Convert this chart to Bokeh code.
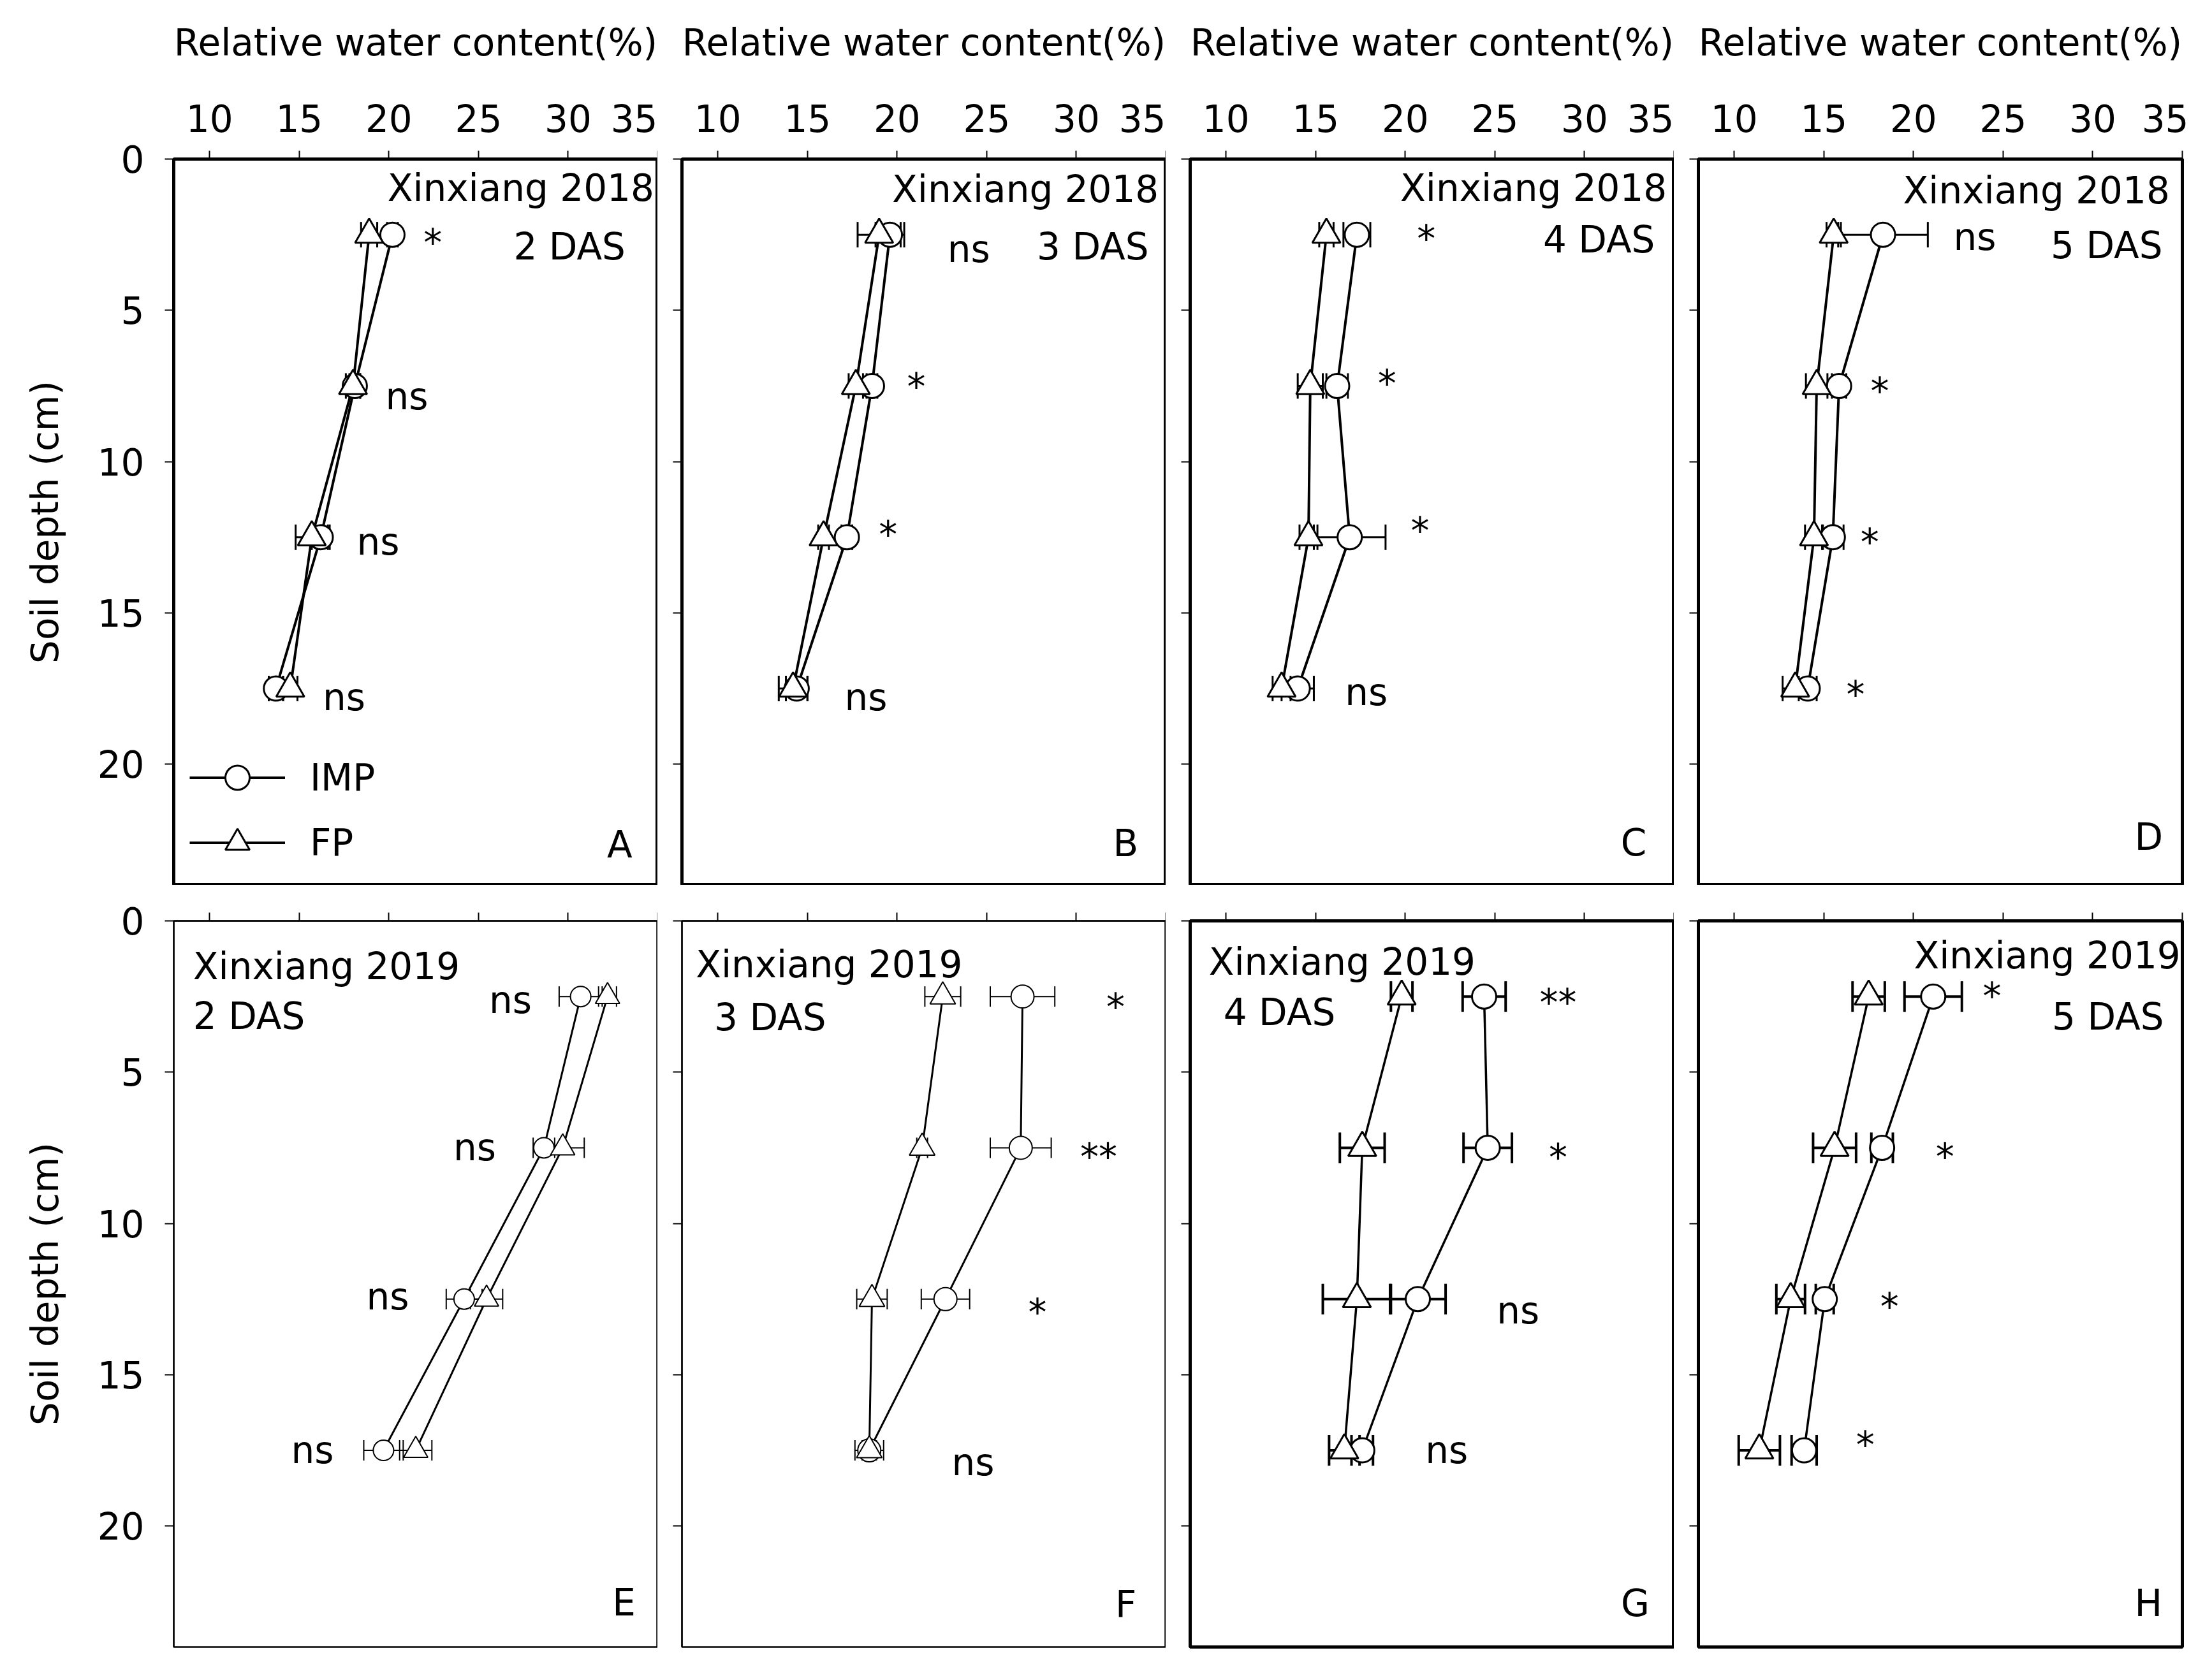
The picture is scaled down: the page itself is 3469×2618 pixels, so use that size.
from bokeh.plotting import figure
from bokeh.models import (Range1d, FixedTicker, Whisker, TeeHead, ColumnDataSource,
                          Legend, LegendItem)
from bokeh.layouts import row, column
from bokeh.embed import file_html
from bokeh.resources import INLINE
from bokeh.core.properties import value

# ---------------- data ----------------
depth = [2.5, 7.5, 12.5, 17.5]
x_ticks = [10, 15, 20, 25, 30, 35]
y_ticks = [0, 5, 10, 15, 20]
x_title = "Relative water content(%)"
y_title = "Soil depth (cm)"
series_names = ["IMP", "FP"]

panel_letters = ["A", "B", "C", "D", "E", "F", "G", "H"]
site_year = ["Xinxiang 2018"] * 4 + ["Xinxiang 2019"] * 4
das_labels = ["2 DAS", "3 DAS", "4 DAS", "5 DAS", "2 DAS", "3 DAS", "4 DAS", "5 DAS"]

imp_A = [20.2, 18.1, 16.2, 13.7]
imp_err_A = [0.3, 0.3, 0.5, 0.4]
fp_A = [18.9, 18.0, 15.7, 14.5]
fp_err_A = [0.45, 0.4, 0.9, 0.4]
sig_A = ["*", "ns", "ns", "ns"]

imp_B = [19.6, 18.6, 17.2, 14.4]
imp_err_B = [0.8, 0.3, 0.3, 0.6]
fp_B = [19.0, 17.7, 15.9, 14.2]
fp_err_B = [1.2, 0.4, 0.3, 0.8]
sig_B = ["ns", "*", "*", "ns"]

imp_C = [17.3, 16.2, 16.9, 14.0]
imp_err_C = [0.75, 0.6, 2.0, 0.9]
fp_C = [15.6, 14.7, 14.6, 13.1]
fp_err_C = [0.4, 0.7, 0.5, 0.5]
sig_C = ["*", "*", "*", "ns"]

imp_D = [18.3, 15.85, 15.5, 14.1]
imp_err_D = [2.5, 0.4, 0.6, 0.5]
fp_D = [15.55, 14.6, 14.45, 13.4]
fp_err_D = [0.4, 0.6, 0.5, 0.7]
sig_D = ["ns", "*", "*", "*"]

imp_E = [30.7, 28.65, 24.2, 19.7]
imp_err_E = [1.2, 0.6, 1.0, 1.1]
fp_E = [32.2, 29.7, 25.45, 21.5]
fp_err_E = [0.5, 1.2, 0.9, 0.9]
sig_E = ["ns", "ns", "ns", "ns"]

imp_F = [27.0, 26.9, 22.7, 18.45]
imp_err_F = [1.8, 1.7, 1.35, 0.4]
fp_F = [22.55, 21.4, 18.6, 18.45]
fp_err_F = [1.0, 0.3, 0.85, 0.8]
sig_F = ["*", "**", "*", "ns"]

imp_G = [24.4, 24.6, 20.7, 17.6]
imp_err_G = [1.2, 1.35, 1.55, 0.6]
fp_G = [19.8, 17.6, 17.3, 16.6]
fp_err_G = [0.6, 1.25, 1.9, 0.85]
sig_G = ["**", "*", "ns", "ns"]

imp_H = [21.1, 18.25, 15.05, 13.9]
imp_err_H = [1.6, 0.6, 0.5, 0.7]
fp_H = [17.5, 15.6, 13.15, 11.4]
fp_err_H = [0.9, 1.2, 0.8, 1.15]
sig_H = ["*", "*", "*", "*"]

# ---------------- annotation positions (data units, text baselines) ----------------
sig_pos = {
    "A": ([22.45, 21.0, 19.4, 17.5], [2.78, 7.85, 12.66, 17.8]),
    "B": ([24.0, 21.07, 19.5, 18.26], [2.98, 7.53, 12.42, 17.8]),
    "C": ([21.17, 18.98, 20.82, 17.83], [2.65, 7.42, 12.29, 17.63]),
    "D": ([23.42, 18.12, 17.56, 16.77], [2.58, 7.69, 12.67, 17.7]),
    "E": ([26.78, 24.79, 19.93, 15.74], [2.63, 7.5, 12.42, 17.51]),
    "F": ([32.19, 31.25, 27.83, 24.24], [2.86, 7.80, 12.94, 17.9]),
    "G": ([28.53, 28.53, 26.29, 22.31], [2.70, 7.82, 12.89, 17.49]),
    "H": ([24.38, 21.76, 18.66, 17.31], [2.49, 7.81, 12.75, 17.33]),
}
title_pos = {
    "A": [(34.8, 0.96, "right"), (33.2, 2.9, "right")],
    "B": [(34.6, 1.01, "right"), (34.04, 2.89, "right")],
    "C": [(34.6, 0.96, "right"), (33.93, 2.66, "right")],
    "D": [(34.3, 1.04, "right"), (33.9, 2.86, "right")],
    "E": [(9.08, 1.5, "left"), (9.08, 3.16, "left")],
    "F": [(8.77, 1.44, "left"), (9.8, 3.2, "left")],
    "G": [(9.04, 1.36, "left"), (9.86, 3.02, "left")],
    "H": [(34.9, 1.15, "right"), (33.97, 3.18, "right")],
}
letter_pos = {"A": (33.58, 22.66), "B": (33.46, 22.63), "C": (33.46, 22.6), "D": (33.92, 22.4),
              "E": (33.77, 22.54), "F": (33.36, 22.6), "G": (33.63, 22.55), "H": (33.88, 22.55)}

styles = {
    "A": dict(lw=4, mlw=3, ew=3, cap=40, outline=5, cs=38, ts=44),
    "B": dict(lw=4, mlw=3, ew=3, cap=40, outline=5, cs=38, ts=44),
    "C": dict(lw=4, mlw=3, ew=3, cap=40, outline=5, cs=38, ts=44),
    "D": dict(lw=4, mlw=3, ew=3, cap=40, outline=5, cs=38, ts=44),
    "E": dict(lw=3, mlw=2, ew=2, cap=32, outline=2.5, cs=32, ts=38),
    "F": dict(lw=3, mlw=2, ew=2, cap=32, outline=2.5, cs=36, ts=40),
    "G": dict(lw=3.5, mlw=3, ew=4, cap=48, outline=5, cs=38, ts=44),
    "H": dict(lw=3.5, mlw=3, ew=4, cap=48, outline=5, cs=38, ts=44),
}

FONT = "DejaVu Sans"
FS = "58px"

panel_data = {
    "A": (imp_A, imp_err_A, fp_A, fp_err_A, sig_A),
    "B": (imp_B, imp_err_B, fp_B, fp_err_B, sig_B),
    "C": (imp_C, imp_err_C, fp_C, fp_err_C, sig_C),
    "D": (imp_D, imp_err_D, fp_D, fp_err_D, sig_D),
    "E": (imp_E, imp_err_E, fp_E, fp_err_E, sig_E),
    "F": (imp_F, imp_err_F, fp_F, fp_err_F, sig_F),
    "G": (imp_G, imp_err_G, fp_G, fp_err_G, sig_G),
    "H": (imp_H, imp_err_H, fp_H, fp_err_H, sig_H),
}


def make_panel(idx):
    key = panel_letters[idx]
    imp, imp_err, fp, fp_err, sig = panel_data[key]
    st = styles[key]
    first_col = idx % 4 == 0
    last_col = idx % 4 == 3
    top_row = idx < 4

    p = figure(frame_width=759, frame_height=1139,
               x_range=Range1d(8, 35), y_range=Range1d(24, 0),
               x_axis_location="above", y_axis_location="left",
               output_backend="svg", toolbar_location=None,
               min_border_left=272 if first_col else 38,
               min_border_right=10 if last_col else 0,
               min_border_top=249 if top_row else 56,
               min_border_bottom=0 if top_row else 10,
               background_fill_color="white", border_fill_color="white")
    p.grid.visible = False
    p.outline_line_color = "black"
    p.outline_line_width = st["outline"]

    xa = p.xaxis[0]
    xa.ticker = FixedTicker(ticks=x_ticks)
    xa.major_tick_out = 13
    xa.major_tick_in = 0
    xa.minor_tick_out = 0
    xa.minor_tick_in = 0
    xa.major_tick_line_width = 2
    xa.axis_line_width = 2
    xa.major_label_text_font = FONT
    xa.major_label_text_font_size = FS
    xa.major_label_text_color = "black"
    if top_row:
        xa.major_label_standoff = 30
        xa.axis_label = x_title
        xa.axis_label_text_font = FONT
        xa.axis_label_text_font_size = FS
        xa.axis_label_text_font_style = "normal"
        xa.axis_label_text_color = "black"
        xa.axis_label_standoff = 60
    else:
        xa.major_label_overrides = {t: "" for t in x_ticks}
        xa.major_label_standoff = 0

    ya = p.yaxis[0]
    ya.ticker = FixedTicker(ticks=y_ticks)
    ya.major_tick_out = 14
    ya.major_tick_in = 0
    ya.minor_tick_out = 0
    ya.minor_tick_in = 0
    ya.major_tick_line_width = 2
    ya.axis_line_width = 2
    ya.major_label_text_font = FONT
    ya.major_label_text_font_size = FS
    ya.major_label_text_color = "black"
    if first_col:
        ya.major_label_standoff = 32
        ya.axis_label = y_title
        ya.axis_label_text_font = FONT
        ya.axis_label_text_font_size = FS
        ya.axis_label_text_font_style = "normal"
        ya.axis_label_text_color = "black"
        ya.axis_label_standoff = 45
    else:
        ya.major_label_overrides = {t: "" for t in y_ticks}
        ya.major_label_standoff = 0

    # error bars
    for vals, errs in ((imp, imp_err), (fp, fp_err)):
        src = ColumnDataSource(dict(depth=depth,
                                    lo=[v - e for v, e in zip(vals, errs)],
                                    hi=[v + e for v, e in zip(vals, errs)]))
        w = Whisker(source=src, base="depth", lower="lo", upper="hi", dimension="width",
                    line_color="black", line_width=st["ew"], level="underlay",
                    upper_head=TeeHead(size=st["cap"], line_width=st["ew"], line_color="black"),
                    lower_head=TeeHead(size=st["cap"], line_width=st["ew"], line_color="black"))
        p.add_layout(w)

    l_imp = p.line(x=imp, y=depth, line_color="black", line_width=st["lw"])
    l_fp = p.line(x=fp, y=depth, line_color="black", line_width=st["lw"])
    s_imp = p.scatter(x=imp, y=depth, marker="circle", size=st["cs"], fill_color="white",
                      line_color="black", line_width=st["mlw"])
    s_fp = p.scatter(x=fp, y=depth, marker="triangle", size=st["ts"], fill_color="white",
                     line_color="black", line_width=st["mlw"])

    # significance labels
    sx, sy = sig_pos[key]
    p.text(x=sx, y=sy, text=sig, text_font=value(FONT), text_font_size=FS,
           text_align="center", text_baseline="alphabetic", text_color="black")

    # panel titles
    (x1, y1, a1), (x2, y2, a2) = title_pos[key]
    p.text(x=[x1], y=[y1], text=[site_year[idx]], text_font=value(FONT), text_font_size=FS,
           text_align=a1, text_baseline="alphabetic", text_color="black")
    p.text(x=[x2], y=[y2], text=[das_labels[idx]], text_font=value(FONT), text_font_size=FS,
           text_align=a2, text_baseline="alphabetic", text_color="black")

    lx, ly = letter_pos[key]
    p.text(x=[lx], y=[ly], text=[key], text_font=value(FONT), text_font_size=FS,
           text_align="right", text_baseline="alphabetic", text_color="black")

    if idx == 0:
        legend = Legend(items=[LegendItem(label=series_names[0], renderers=[l_imp, s_imp]),
                               LegendItem(label=series_names[1], renderers=[l_fp, s_fp])],
                        location=(25, 19), orientation="vertical",
                        glyph_width=150, glyph_height=95, label_height=95,
                        label_standoff=39, spacing=7, padding=0, margin=0,
                        border_line_color=None, background_fill_alpha=0,
                        label_text_font=FONT, label_text_font_size=FS,
                        label_text_color="black")
        p.add_layout(legend)
    return p


panels = [make_panel(i) for i in range(8)]
layout = column(row(*panels[:4], spacing=0), row(*panels[4:], spacing=0), spacing=0)

with open("out.html", "w") as f:
    f.write(file_html(layout, INLINE))
